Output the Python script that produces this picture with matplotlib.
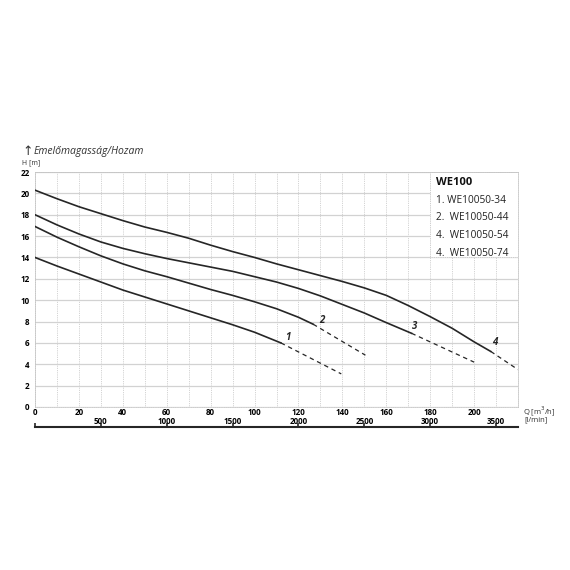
import numpy as np
import matplotlib.pyplot as plt
from matplotlib.patches import Rectangle

plt.rcParams['font.family'] = ['Open Sans', 'DejaVu Sans']

# pump curves WE100: Q [m3/h], H [m]
q1 = [0, 10, 20, 30, 40, 50, 60, 70, 80, 90, 100, 112]
h1 = [14.0, 13.2, 12.45, 11.7, 10.95, 10.3, 9.65, 9.0, 8.35, 7.7, 7.0, 6.0]
q1_dash = [112, 139.5]
h1_dash = [6.0, 3.1]

q2 = [0, 10, 20, 30, 40, 50, 60, 70, 80, 90, 100, 110, 120, 126.7]
h2 = [16.9, 15.9, 15.0, 14.15, 13.4, 12.75, 12.2, 11.6, 11.0, 10.45, 9.85, 9.2, 8.4, 7.75]
q2_dash = [126.7, 150.5]
h2_dash = [7.75, 4.85]

q3 = [0, 10, 20, 30, 40, 50, 60, 70, 80, 90, 100, 110, 120, 130, 140, 150, 160, 171.5]
h3 = [18.0, 17.05, 16.2, 15.45, 14.85, 14.35, 13.9, 13.5, 13.1, 12.7, 12.2, 11.7, 11.1, 10.4, 9.6, 8.8, 7.9, 6.9]
q3_dash = [171.5, 200]
h3_dash = [6.9, 4.2]

q4 = [0, 10, 20, 30, 40, 50, 60, 70, 80, 90, 100, 110, 120, 130, 140, 150, 160, 170, 180, 190, 200, 207.6]
h4 = [20.3, 19.5, 18.75, 18.1, 17.45, 16.85, 16.35, 15.8, 15.15, 14.55, 14.0, 13.4, 12.85, 12.3, 11.75, 11.15, 10.45, 9.5, 8.46, 7.37, 6.1, 5.2]
q4_dash = [207.6, 220]
h4_dash = [5.2, 3.5]

curve_labels = ['1', '2', '3', '4']
label_q = [115.3, 130.5, 173, 209.5]
label_h = [6.55, 8.1, 7.5, 6.0]

legend_title = 'WE100'
legend_lines = ['1. WE10050-34', '2.  WE10050-44', '4.  WE10050-54', '4.  WE10050-74']

q_ticks = list(range(0, 201, 20))
h_ticks = list(range(0, 23, 2))
lmin_ticks = [0, 500, 1000, 1500, 2000, 2500, 3000, 3500]

col = '#262626'

fig = plt.figure(figsize=(5.7, 5.7), dpi=100)
L, W = 35 / 570, (518 - 35) / 570
B, H = 1 - 407 / 570, (407 - 172) / 570
ax = fig.add_axes([L, B, W, H])
ax.set_xlim(0, 220)
ax.set_ylim(0, 22)
ax.set_axisbelow(True)

ax.set_xticks(range(0, 221, 10), minor=True)
ax.set_xticks(q_ticks)
ax.set_xticklabels([str(v) for v in q_ticks])
ax.set_yticks(h_ticks)
ax.set_yticklabels([str(v) for v in h_ticks])
ax.yaxis.grid(True, color='#d2d2d2', linewidth=0.9)
ax.xaxis.grid(True, which='both', color='#c4c4c4', linewidth=0.6, linestyle=(0, (1, 1.2)))
ax.tick_params(axis='both', which='both', length=0)
ax.tick_params(axis='y', pad=4, labelsize=5.8)
ax.tick_params(axis='x', pad=0.5, labelsize=5.8)
for lab in ax.get_xticklabels() + ax.get_yticklabels():
    lab.set_fontweight('bold')
for s in ax.spines.values():
    s.set_color('#c4c4c4')
    s.set_linewidth(0.6)
    s.set_linestyle((0, (1, 1.2)))

# white box behind the model list
ax.add_patch(Rectangle((180, 14), 40, 8, facecolor='white', edgecolor='#c4c4c4',
                       linewidth=0.6, linestyle=(0, (1, 1.2)), zorder=1))

for qs, hs, qd, hd in [(q1, h1, q1_dash, h1_dash), (q2, h2, q2_dash, h2_dash),
                       (q3, h3, q3_dash, h3_dash), (q4, h4, q4_dash, h4_dash)]:
    ax.plot(qs, hs, color=col, linewidth=1.2, zorder=3, solid_joinstyle='round')
    ax.plot(qd, hd, color=col, linewidth=0.9, linestyle=(0, (3.5, 3)), zorder=3)

for t, x, y in zip(curve_labels, label_q, label_h):
    ax.text(x, y, t, fontsize=7, fontweight='bold', fontstyle='italic', color=col,
            ha='center', va='center', zorder=4)

ax.text(182.5, 21.0, legend_title, fontsize=8, fontweight='bold', color='#111',
        va='center', ha='left', zorder=4)
for i, t in enumerate(legend_lines):
    ax.text(182.5, 19.35 - 1.65 * i, t, fontsize=7.3, color='#222',
            va='center', ha='left', zorder=4)

# axis captions
fig.text(22 / 570, 1 - 152 / 570, '\u2191', fontsize=9, color='#333', ha='left', va='center')
fig.text(34 / 570, 1 - 152 / 570, 'Emelőmagasság/Hozam', fontsize=7.5, fontstyle='italic',
         color='#333', ha='left', va='center')
fig.text(22 / 570, 1 - 162.5 / 570, 'H [m]', fontsize=5, color='#333', ha='left', va='center')
fig.text(523 / 570, 1 - 411 / 570, 'Q [m$^3$/h]', fontsize=5.5, color='#333', ha='left', va='center')
fig.text(548 / 570, 1 - 420 / 570, '[l/min]', fontsize=5.5, color='#333', ha='right', va='center')

# second flow scale in l/min
ax2 = fig.add_axes([L, 1 - 427 / 570, W, 0])
ax2.set_xlim(0, 220 * 1000 / 60)
ax2.set_yticks([])
for k in ['left', 'right', 'top']:
    ax2.spines[k].set_visible(False)
ax2.spines['bottom'].set_linewidth(1.5)
ax2.spines['bottom'].set_color(col)
ax2.set_xticks(lmin_ticks)
ax2.set_xticklabels(['' if v == 0 else str(v) for v in lmin_ticks])
ax2.tick_params(axis='x', top=True, bottom=False, labeltop=True, labelbottom=False,
                direction='out', length=3, width=1.2, color=col, pad=-2.5, labelsize=5.8)
for lab in ax2.get_xticklabels():
    lab.set_fontweight('bold')

fig.savefig('out.png', dpi=100)
